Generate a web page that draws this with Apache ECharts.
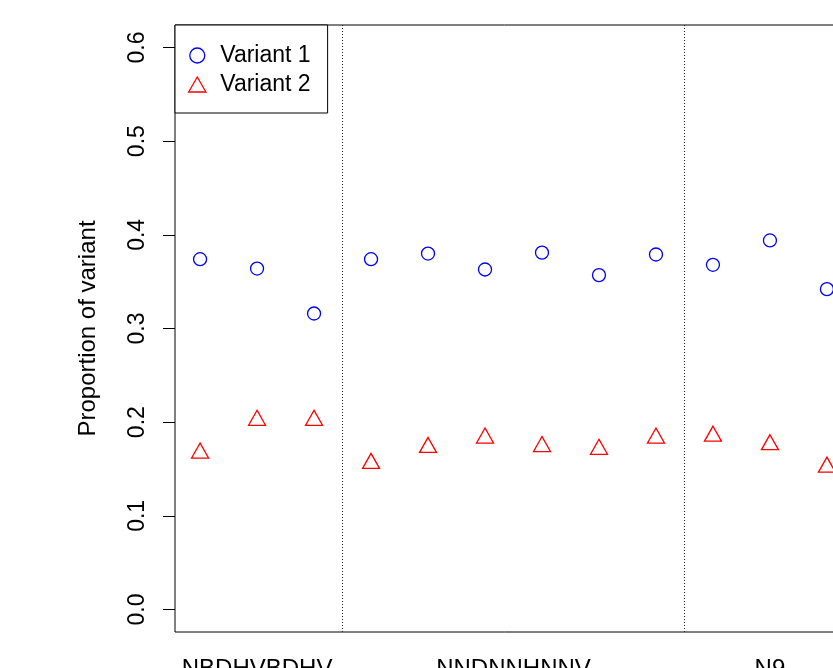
<!DOCTYPE html>
<html><head><meta charset="utf-8">
<script src="https://cdn.jsdelivr.net/npm/echarts@6/dist/echarts.min.js"></script>
<style>html,body{margin:0;padding:0;background:#fff}#c{width:833px;height:668px}</style>
</head><body><div id="c"></div>
<script>
const groupNames = ['NBDHVBDHV', 'NNDNNHNNV', 'N9'];
const groupSizes = [3, 6, 3];
const variant1 = [0.374, 0.364, 0.316, 0.374, 0.380, 0.363, 0.381, 0.357, 0.379, 0.368, 0.394, 0.342];
const variant2 = [0.167, 0.202, 0.202, 0.156, 0.173, 0.183, 0.174, 0.171, 0.183, 0.185, 0.176, 0.152];
const yTicks = [0, 0.1, 0.2, 0.3, 0.4, 0.5, 0.6];
const seriesNames = ['Variant 1', 'Variant 2'];

// derived group centres and dividers (axis units: point i at x = i+1)
const groupCenters = [];
const dividers = [];
let start = 1;
groupSizes.forEach((n, gi) => {
  groupCenters.push(start + (n - 1) / 2);
  if (gi < groupSizes.length - 1) dividers.push(start + n - 0.5);
  start += n;
});
const nPts = variant1.length;
const xPad = (nPts - 1) * 0.04;
const yPad = (yTicks[yTicks.length - 1] - yTicks[0]) * 0.04;

const FONT = 'Liberation Sans, Arial, Helvetica, sans-serif';
const chart = echarts.init(document.getElementById('c'), null, {renderer: 'canvas'});
chart.setOption({
  animation: false,
  backgroundColor: '#fff',
  textStyle: {fontFamily: FONT},
  grid: {left: 175, top: 25, width: 677, height: 607, containLabel: false, outerBoundsMode: 'none',
    show: true, borderColor: '#000', borderWidth: 1, backgroundColor: 'transparent'},
  legend: {
    left: 175, top: 25, orient: 'vertical',
    padding: [19, 17, 17, 13],
    borderColor: '#000', borderWidth: 1, borderRadius: 0,
    backgroundColor: '#fff',
    itemWidth: 36, itemHeight: 15, itemGap: 6,
    textStyle: {fontSize: 23, color: '#000', fontFamily: FONT},
    data: [
      {name: seriesNames[0], icon: 'circle', itemStyle: {color: 'transparent', borderColor: '#0000ff', borderWidth: 1.3}},
      {name: seriesNames[1], icon: 'path://M0,16L9.2,0L18.4,16Z', itemStyle: {color: 'transparent', borderColor: '#ff0000', borderWidth: 1.3}}
    ]
  },
  xAxis: {
    type: 'value', min: 1 - xPad, max: nPts + xPad,
    axisLine: {show: false}, axisTick: {show: false}, splitLine: {show: false},
    axisLabel: {
      customValues: groupCenters, margin: 25, fontSize: 24, color: '#000', fontFamily: FONT,
      formatter: v => { const i = groupCenters.findIndex(c => Math.abs(c - v) < 1e-6); return i >= 0 ? groupNames[i] : ''; }
    }
  },
  yAxis: {
    type: 'value', min: yTicks[0] - yPad, max: yTicks[yTicks.length - 1] + yPad,
    name: 'Proportion of variant', nameLocation: 'middle', nameRotate: 90, nameGap: 75,
    nameTextStyle: {fontSize: 24, color: '#000', fontFamily: FONT},
    axisLine: {show: false},
    splitLine: {show: false},
    axisTick: {show: true, customValues: yTicks, length: 12, lineStyle: {color: '#000', width: 1}},
    axisLabel: {customValues: yTicks, rotate: 90, margin: 26, fontSize: 23, color: '#000', fontFamily: FONT,
      formatter: v => v.toFixed(1)}
  },
  series: [
    {
      name: seriesNames[0], type: 'scatter', symbol: 'circle', symbolSize: 13,
      itemStyle: {color: 'transparent', borderColor: '#0000ff', borderWidth: 1.3, opacity: 1},
      data: variant1.map((v, i) => [i + 1, v]),
      markLine: {
        silent: true, symbol: 'none', label: {show: false},
        lineStyle: {type: [1, 2], color: '#222', width: 1},
        emphasis: {disabled: true},
        data: dividers.map(x => ({xAxis: x}))
      }
    },
    {
      name: seriesNames[1], type: 'scatter', symbol: 'triangle', symbolSize: [17, 15], symbolOffset: [0, -2.5],
      itemStyle: {color: 'transparent', borderColor: '#ff0000', borderWidth: 1.3, opacity: 1},
      data: variant2.map((v, i) => [i + 1, v])
    }
  ]
});
</script></body></html>
